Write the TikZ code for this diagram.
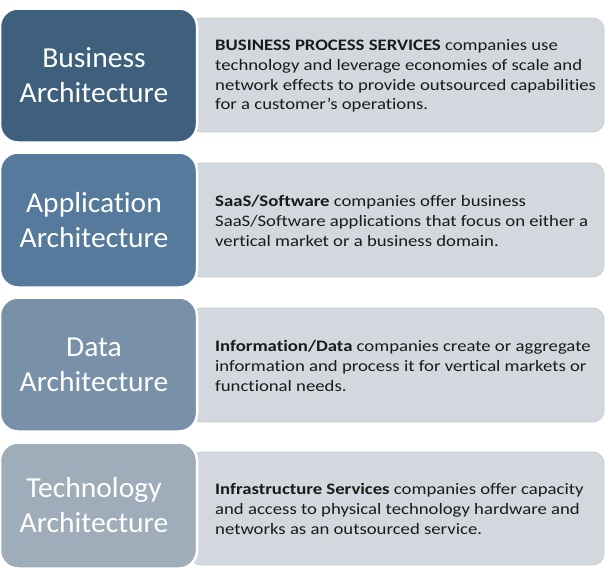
\documentclass[tikz,border=0pt]{standalone}
\usepackage{fontspec}
\setmainfont{Carlito}
\newfontfamily\descfont[FakeStretch=1.17, Ligatures=NoCommon]{Carlito}
\newfontfamily\labelfont[FakeStretch=1.02, Ligatures=NoCommon]{Carlito}
\definecolor{cA}{HTML}{3E607D}
\definecolor{cB}{HTML}{557A9B}
\definecolor{cC}{HTML}{7890A8}
\definecolor{cD}{HTML}{9FADBB}
\definecolor{panel}{HTML}{D3D8DF}
\definecolor{txt}{HTML}{1A1A1A}
\tikzset{
  archbox/.style={rounded corners=18pt, draw=white, line width=2.5pt, minimum width=197pt, inner sep=0pt},
  archlabel/.style={text=white, align=center, inner sep=0pt, font=\labelfont\fontsize{29}{35}\selectfont},
  panelbox/.style={rounded corners=11pt, fill=panel, draw=panel!85!gray, line width=0.6pt,
    minimum width=414pt, inner sep=0pt},
  desc/.style={anchor=west, align=left, text=txt, inner sep=0pt, font=\descfont\fontsize{16}{19.6}\selectfont}
}
\begin{document}
\begin{tikzpicture}[x=1pt,y=-1pt]
\useasboundingbox (0,0) rectangle (606,570);
\fill[white] (0,0) rectangle (606,570);
% panels (behind)
\node[panelbox, minimum height=114pt] (p1) at (397,75) {};
\node[panelbox, minimum height=114pt] (p2) at (397,220) {};
\node[panelbox, minimum height=114pt] (p3) at (397,365) {};
\node[panelbox, minimum height=113pt] (p4) at (397,508.5) {};
% architecture boxes
\node[archbox, fill=cA, minimum height=134pt] (a1) at (98.5,75.5) {};
\node[archbox, fill=cB, minimum height=135pt] (a2) at (98.5,220) {};
\node[archbox, fill=cC, minimum height=134pt] (a3) at (98.5,364.5) {};
\node[archbox, fill=cD, minimum height=126pt] (a4) at (98.5,505.5) {};
\node[archlabel] (l1) at ([xshift=-4.5pt]a1.center) {Business\\Architecture};
\node[archlabel] (l2) at ([xshift=-4.5pt]a2.center) {Application\\Architecture};
\node[archlabel] (l3) at ([xshift=-4.5pt]a3.center) {Data\\Architecture};
\node[archlabel] (l4) at ([xshift=-4.5pt]a4.center) {Technology\\Architecture};
% descriptions
\node[desc] (d1) at (215,76) {\textbf{BUSINESS PROCESS SERVICES} companies use\\technology and leverage economies of scale and\\network effects to provide outsourced capabilities\\for a customer’s operations.};
\node[desc] (d2) at (215,221) {\textbf{SaaS/Software} companies offer business\\SaaS/Software applications that focus on either a\\vertical market or a business domain.};
\node[desc] (d3) at (215,366) {\textbf{Information/Data} companies create or aggregate\\information and process it for vertical markets or\\functional needs.};
\node[desc] (d4) at (215,509) {\textbf{Infrastructure Services} companies offer capacity\\and access to physical technology hardware and\\networks as an outsourced service.};
\end{tikzpicture}
\end{document}
